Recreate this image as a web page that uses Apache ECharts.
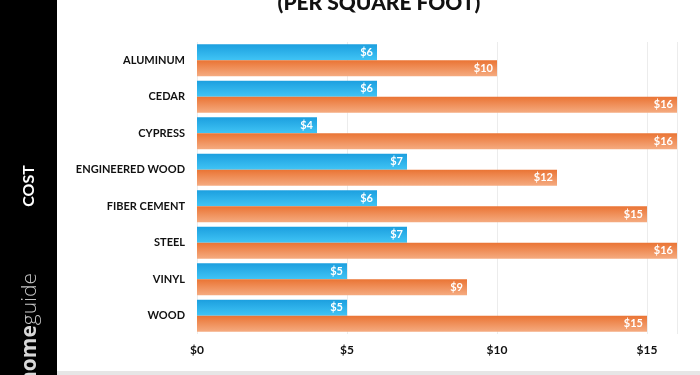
<!DOCTYPE html>
<html>
<head>
<meta charset="utf-8">
<script src="https://cdn.jsdelivr.net/npm/echarts@6/dist/echarts.min.js"></script>
<style>
  html, body { margin: 0; padding: 0; background: #fff; }
  #main { width: 700px; height: 375px; }
</style>
</head>
<body>
<div id="main"></div>
<script>
// siding cost per square foot, low and high
const categories = ["ALUMINUM", "CEDAR", "CYPRESS", "ENGINEERED WOOD", "FIBER CEMENT", "STEEL", "VINYL", "WOOD"];
const lowCost = [6, 6, 4, 7, 6, 7, 5, 5];
const highCost = [10, 16, 16, 12, 15, 16, 9, 15];

const chart = echarts.init(document.getElementById("main"));

const fontFam = "Lato, 'Open Sans', sans-serif";

function grad(top, bottom) {
  return new echarts.graphic.LinearGradient(0, 0, 0, 1, [
    { offset: 0, color: top },
    { offset: 1, color: bottom },
  ]);
}

const valueLabel = {
  show: true,
  position: "insideRight",
  distance: 4,
  color: "#fff",
  fontFamily: fontFam,
  fontWeight: "bold",
  fontSize: 11,
  formatter: (p) => "$" + p.value,
};

const option = {
  backgroundColor: "#fff",
  animation: false,
  grid: {
    left: 197,
    right: 23,
    top: 42,
    bottom: 41,
  },
  xAxis: {
    type: "value",
    min: 0,
    max: 16,
    interval: 5,
    axisLine: { show: false },
    axisTick: { show: false },
    axisLabel: {
      color: "#111",
      fontFamily: fontFam,
      fontWeight: "bold",
      fontSize: 12,
      margin: 10,
      formatter: (v) => (v % 5 === 0 ? "$" + v : ""),
    },
    splitLine: {
      show: true,
      lineStyle: { color: "#ececec", width: 1 },
    },
  },
  yAxis: {
    type: "category",
    data: categories,
    inverse: true,
    axisLine: { show: false },
    axisTick: { show: false },
    axisLabel: {
      color: "#111",
      fontFamily: fontFam,
      fontWeight: "bold",
      fontSize: 11,
      margin: 12,
    },
  },
  series: [
    {
      name: "low",
      type: "bar",
      data: lowCost,
      barWidth: 16,
      barGap: "0%",
      itemStyle: { color: grad("#1c9fdf", "#40c4f5") },
      label: valueLabel,
    },
    {
      name: "high",
      type: "bar",
      data: highCost,
      barWidth: 16,
      barGap: "0%",
      itemStyle: { color: grad("#ea7434", "#f5ab80") },
      label: valueLabel,
    },
  ],
  graphic: [
    {
      type: "rect",
      left: 0,
      top: 0,
      shape: { width: 57, height: 375 },
      style: { fill: "#000" },
      z: 0,
    },
    {
      type: "rect",
      left: 57,
      top: 371,
      shape: { width: 643, height: 4 },
      style: { fill: "#e6e6e6" },
      z: 0,
    },
    {
      type: "text",
      x: 379,
      y: -7,
      style: {
        text: "(PER SQUARE FOOT)",
        fill: "#111",
        font: "900 21px " + fontFam,
        textAlign: "center",
        textVerticalAlign: "top",
      },
    },
    {
      type: "text",
      x: 29,
      y: 186,
      rotation: Math.PI / 2,
      style: {
        text: "COST",
        fill: "#fff",
        font: "bold 16px " + fontFam,
        textAlign: "center",
        textVerticalAlign: "middle",
      },
    },
    {
      type: "text",
      x: 30,
      y: 385,
      rotation: Math.PI / 2,
      style: {
        text: "{b|home}{l|guide}",
        textAlign: "left",
        textVerticalAlign: "middle",
        rich: {
          b: { fill: "#d8d8d8", font: "bold 21px 'Open Sans', sans-serif" },
          l: { fill: "#c4c4c4", font: "300 21px 'Open Sans', sans-serif" },
        },
      },
    },
  ],
};

chart.setOption(option);
</script>
</body>
</html>
